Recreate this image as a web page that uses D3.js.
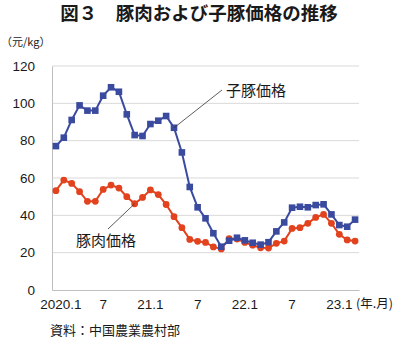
<!DOCTYPE html>
<html>
<head>
<meta charset="utf-8">
<script src="https://cdn.jsdelivr.net/npm/d3@7"></script>
<style>
  html, body { margin: 0; padding: 0; background: #fff; }
  svg { display: block; }
  text { font-family: "Liberation Sans", Arial, "Noto Sans CJK JP", sans-serif; fill: #1a1a1a; }
  .jp { font-family: "Noto Sans CJK JP", sans-serif; }
</style>
</head>
<body>
<svg id="chart" width="400" height="340"></svg>
<script>
// Monthly categories, 2020.1 – 2023.3
const months = [];
for (let yr = 2020; yr <= 2023; yr++) {
  for (let m = 1; m <= 12; m++) {
    if (yr === 2023 && m > 3) break;
    months.push(yr + "." + m);
  }
}

// 子豚価格 (元/kg)
const pigletPrice = [
  77.1, 81.6, 91.1, 98.9, 96.1, 96.1, 104.1, 108.6, 106.2, 94.1, 83.0, 82.5,
  88.9, 90.7, 93.2, 86.9, 73.7, 55.2, 44.3, 38.4, 30.4, 23.2, 26.4, 28.0,
  26.6, 25.3, 24.3, 25.6, 31.4, 36.2, 44.1, 44.6, 44.3, 45.5, 45.9, 40.5,
  34.8, 33.9, 37.7
];

// 豚肉価格 (元/kg)
const porkPrice = [
  53.2, 58.9, 57.1, 52.7, 47.5, 47.5, 53.9, 56.2, 54.6, 50.0, 46.2, 49.6,
  53.6, 51.1, 45.8, 39.3, 33.4, 27.1, 26.1, 25.5, 23.1, 22.0, 27.5, 27.3,
  25.5, 24.0, 22.6, 22.5, 25.0, 26.2, 33.0, 33.4, 35.7, 38.9, 40.5, 35.7,
  29.8, 26.8, 26.2
];

// x-axis ticks: every 6th month
const xTickMonths = ["2020.1", "2020.7", "2021.1", "2021.7", "2022.1", "2022.7", "2023.1"];
const xTickLabels = ["2020.1", "7", "21.1", "7", "22.1", "7", "23.1"];
const yTicks = [0, 20, 40, 60, 80, 100, 120];

const svg = d3.select("#chart");
const plotLeft = 52, plotRight = 359, plotTop = 66, plotBottom = 290;

const x = d3.scaleBand().domain(months).range([plotLeft, plotRight]);
const y = d3.scaleLinear().domain([0, 120]).range([plotBottom, plotTop]);
const cx = d => x(d) + x.bandwidth() / 2;

// Title
svg.append("text").attr("class", "jp")
  .attr("x", 199).attr("y", 20).attr("text-anchor", "middle")
  .style("font-size", "18.5px").style("font-weight", "700")
  .text("図３　豚肉および子豚価格の推移");

// Unit label
svg.append("text").attr("class", "jp")
  .attr("x", 1).attr("y", 46)
  .style("font-size", "11px")
  .text("（元/kg）");

// Gridlines
svg.append("g").selectAll("line").data(yTicks.filter(t => t > 0)).join("line")
  .attr("x1", plotLeft).attr("x2", plotRight)
  .attr("y1", d => y(d)).attr("y2", d => y(d))
  .attr("stroke", "#d9d9d9").attr("stroke-width", 1);

// Y axis
const yAxis = svg.append("g").attr("transform", `translate(${plotLeft},0)`)
  .call(d3.axisLeft(y).tickValues(yTicks).tickSize(0).tickPadding(17));
yAxis.select(".domain").attr("stroke", "#bfbfbf");
yAxis.selectAll("text").style("font-size", "13.5px").attr("fill", "#1a1a1a");

// X axis
const xAxis = svg.append("g").attr("transform", `translate(0,${plotBottom})`)
  .call(d3.axisBottom(x).tickValues(xTickMonths)
    .tickFormat(d => xTickLabels[xTickMonths.indexOf(d)])
    .tickSize(0).tickPadding(9));
xAxis.select(".domain").attr("stroke", "#bfbfbf");
xAxis.selectAll("text").style("font-size", "13.5px").attr("fill", "#1a1a1a")
  .attr("dx", (d, i) => i === 0 ? 5 : 0);

svg.append("text").attr("class", "jp")
  .attr("x", 356).attr("y", 308)
  .style("font-size", "12.5px")
  .text("(年.月)");

// Series
const pigletColor = "#3a4a9f";
const porkColor = "#e2421d";

const line = d3.line().x((d, i) => cx(months[i])).y(d => y(d));

svg.append("path").datum(porkPrice)
  .attr("d", line).attr("fill", "none")
  .attr("stroke", porkColor).attr("stroke-width", 2);
svg.append("g").selectAll("circle").data(porkPrice).join("circle")
  .attr("cx", (d, i) => cx(months[i])).attr("cy", d => y(d))
  .attr("r", 3.4).attr("fill", porkColor);

svg.append("path").datum(pigletPrice)
  .attr("d", line).attr("fill", "none")
  .attr("stroke", pigletColor).attr("stroke-width", 2);
svg.append("g").selectAll("rect").data(pigletPrice).join("rect")
  .attr("x", (d, i) => cx(months[i]) - 3.3).attr("y", d => y(d) - 3.3)
  .attr("width", 6.6).attr("height", 6.6).attr("fill", pigletColor);

// Series labels with leader lines
const pigletIdx = 15, porkIdx = 10;
svg.append("line")
  .attr("x1", cx(months[pigletIdx])).attr("y1", y(pigletPrice[pigletIdx]))
  .attr("x2", 222).attr("y2", 90)
  .attr("stroke", "#333").attr("stroke-width", 0.8);
svg.append("text").attr("class", "jp")
  .attr("x", 226).attr("y", 96)
  .style("font-size", "15px")
  .text("子豚価格");

svg.append("line")
  .attr("x1", cx(months[porkIdx])).attr("y1", y(porkPrice[porkIdx]))
  .attr("x2", 108).attr("y2", 229)
  .attr("stroke", "#333").attr("stroke-width", 0.8);
svg.append("text").attr("class", "jp")
  .attr("x", 76).attr("y", 246)
  .style("font-size", "15px")
  .text("豚肉価格");

// Source note
svg.append("text").attr("class", "jp")
  .attr("x", 50).attr("y", 335)
  .style("font-size", "13px")
  .text("資料：中国農業農村部");
</script>
</body>
</html>
